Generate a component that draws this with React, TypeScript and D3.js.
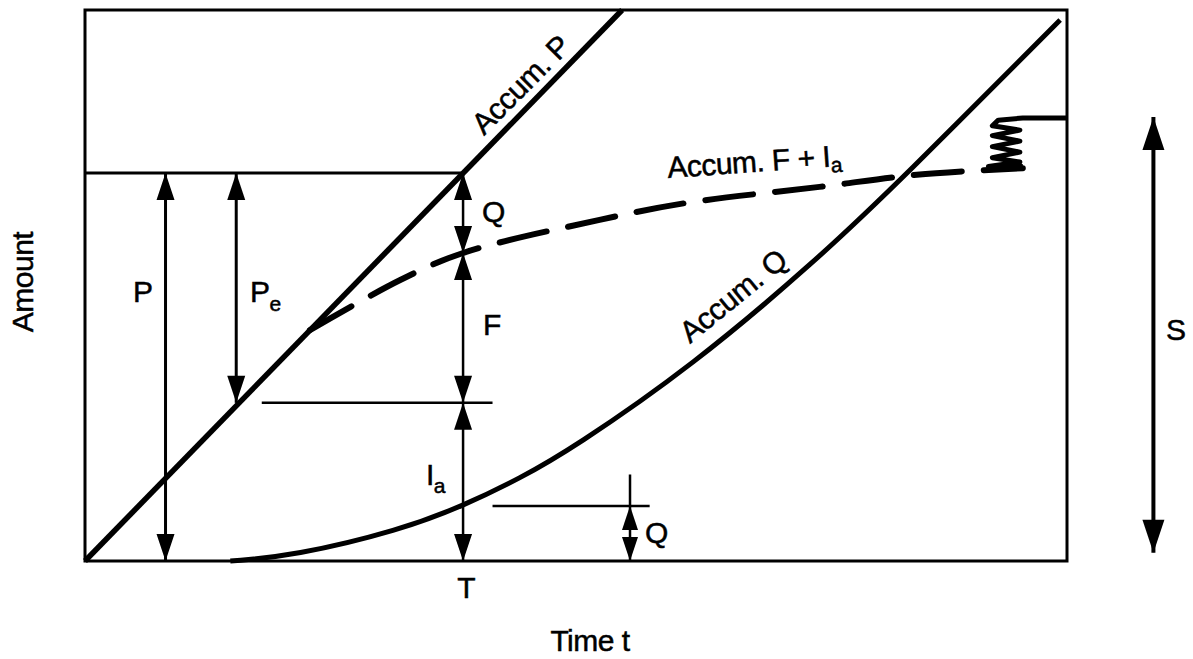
import React from "react";
import * as d3 from "d3";

// curves (time and amount in arbitrary 0-10 units)
const accumPTime = [0, 5.47];
const accumPAmount = [0, 10];
const accumQTime = [1.48, 2.12, 3.21, 3.85, 4.43, 4.97, 6.19, 7.45, 8.3, 9.93];
const accumQAmount = [0, 0.09, 0.56, 1.0, 1.5, 2.05, 3.55, 5.46, 6.9, 9.82];
const accumFIaTime = [2.29, 3.21, 3.85, 5.24, 6.13, 7.48, 8.47, 9.55];
const accumFIaAmount = [4.19, 5.1, 5.59, 6.19, 6.5, 6.79, 7.01, 7.13];
// spring-like squiggle at the right end of the F + Ia curve
const springTime = [10, 9.55, 9.3, 9.24, 9.52, 9.24, 9.52, 9.24, 9.52, 9.24, 9.52, 9.2, 9.55];
const springAmount = [8.04, 8.04, 8.0, 7.9, 7.82, 7.72, 7.62, 7.52, 7.42, 7.32, 7.24, 7.16, 7.16];

// key levels
const timeT = 3.85;
const levelP = 7.04;
const levelFIa = 5.59;
const levelIa = 2.87;
const levelQ = 1.0;
const timeP = 0.82;
const timePe = 1.54;
const timeQ = 5.55;
const timeS = 10.88;
const levelSTop = 8.06;
const levelSBottom = 0.15;

const width = 1193;
const height = 659;

const x = d3.scaleLinear().domain([0, 10]).range([85, 1067]);
const y = d3.scaleLinear().domain([0, 10]).range([561, 10]);

const font = "'Liberation Sans', Arial, Helvetica, sans-serif";

const zip = (a: number[], b: number[]) => a.map((v, i) => [v, b[i]] as [number, number]);

const head = (t: number, a: number, dir: number, len = 27, w = 18) => {
  // dir -1: tip points up, 1: tip points down
  const px = x(t);
  const py = y(a);
  const by = py - dir * len;
  return `M${px},${py}L${px - w / 2},${by}L${px + w / 2},${by}Z`;
};

export default function App() {
  const lineGen = d3
    .line<[number, number]>()
    .x((d) => x(d[0]))
    .y((d) => y(d[1]));
  const smooth = d3
    .line<[number, number]>()
    .x((d) => x(d[0]))
    .y((d) => y(d[1]))
    .curve(d3.curveCatmullRom.alpha(0.5));
  const basis = d3
    .line<[number, number]>()
    .x((d) => x(d[0]))
    .y((d) => y(d[1]))
    .curve(d3.curveBasis);

  const heads = [
    head(timeP, levelP, -1),
    head(timeP, 0, 1),
    head(timePe, levelP, -1),
    head(timePe, levelIa, 1),
    head(timeT, levelP, -1),
    head(timeT, levelFIa, 1),
    head(timeT, levelFIa, -1),
    head(timeT, levelIa, 1),
    head(timeT, levelIa, -1),
    head(timeT, 0, 1),
    head(timeQ, levelQ, -1, 24, 16),
    head(timeQ, 0, 1, 24, 16),
    head(timeS, levelSTop, -1, 33, 22),
    head(timeS, levelSBottom, 1, 33, 22),
  ];

  const label = {
    fontFamily: font,
    fontSize: 30,
    fill: "#000",
    stroke: "#000",
    strokeWidth: 0.5,
    letterSpacing: -0.5,
  };
  const sub = { fontSize: 21 };

  return (
    <svg width={width} height={height} style={{ position: "absolute", left: 0, top: 0, background: "#fff" }}>
      {/* frame */}
      <rect x={x(0)} y={y(10)} width={x(10) - x(0)} height={y(0) - y(10)} fill="none" stroke="#000" strokeWidth={3} />

      {/* reference lines */}
      <line x1={x(0)} x2={x(timeT)} y1={y(levelP)} y2={y(levelP)} stroke="#000" strokeWidth={3} />
      <line x1={x(1.8)} x2={x(4.15)} y1={y(levelIa)} y2={y(levelIa)} stroke="#000" strokeWidth={2.5} />
      <line x1={x(4.15)} x2={x(5.75)} y1={y(levelQ)} y2={y(levelQ)} stroke="#000" strokeWidth={2.5} />

      {/* dimension lines */}
      <line x1={x(timeP)} x2={x(timeP)} y1={y(levelP)} y2={y(0)} stroke="#000" strokeWidth={3} />
      <line x1={x(timePe)} x2={x(timePe)} y1={y(levelP)} y2={y(levelIa)} stroke="#000" strokeWidth={3} />
      <line x1={x(timeT)} x2={x(timeT)} y1={y(levelP)} y2={y(0)} stroke="#000" strokeWidth={2.5} />
      <line x1={x(timeQ)} x2={x(timeQ)} y1={y(1.57)} y2={y(0)} stroke="#000" strokeWidth={2.5} />
      <line x1={x(timeS)} x2={x(timeS)} y1={y(levelSTop)} y2={y(levelSBottom)} stroke="#000" strokeWidth={4} />

      {heads.map((d, i) => (
        <path key={i} d={d} fill="#000" />
      ))}

      {/* curves */}
      <path d={lineGen(zip(accumPTime, accumPAmount)) || ""} fill="none" stroke="#000" strokeWidth={5.5} />
      <path d={basis(zip(accumQTime, accumQAmount)) || ""} fill="none" stroke="#000" strokeWidth={5} />
      <path
        d={smooth(zip(accumFIaTime, accumFIaAmount)) || ""}
        fill="none"
        stroke="#000"
        strokeWidth={6}
        strokeDasharray="48 22"
        strokeLinecap="round"
      />
      <path d={lineGen(zip(springTime, springAmount)) || ""} fill="none" stroke="#000" strokeWidth={5} strokeLinejoin="round" />

      {/* curve labels */}
      <text {...label} transform="translate(484,136) rotate(-45)">Accum. P</text>
      <text {...label} transform="translate(668,178) rotate(-4)">
        Accum. F + I<tspan {...sub} dy={6}>a</tspan>
      </text>
      <text {...label} transform="translate(690,344) rotate(-39)">Accum. Q</text>

      {/* dimension labels */}
      <text {...label} x={133} y={302}>P</text>
      <text {...label} x={250} y={302}>
        P<tspan {...sub} dy={9}>e</tspan>
      </text>
      <text {...label} x={482} y={222}>Q</text>
      <text {...label} x={483} y={335}>F</text>
      <text {...label} x={426} y={485}>
        I<tspan {...sub} dy={8}>a</tspan>
      </text>
      <text {...label} x={645} y={543}>Q</text>
      <text {...label} x={1166} y={340}>S</text>
      <text {...label} x={x(timeT) + 3} y={598} textAnchor="middle">T</text>

      {/* axis titles */}
      <text {...label} x={590} y={651} textAnchor="middle">Time t</text>
      <text {...label} transform="translate(33,282) rotate(-90)" textAnchor="middle">Amount</text>
    </svg>
  );
}
